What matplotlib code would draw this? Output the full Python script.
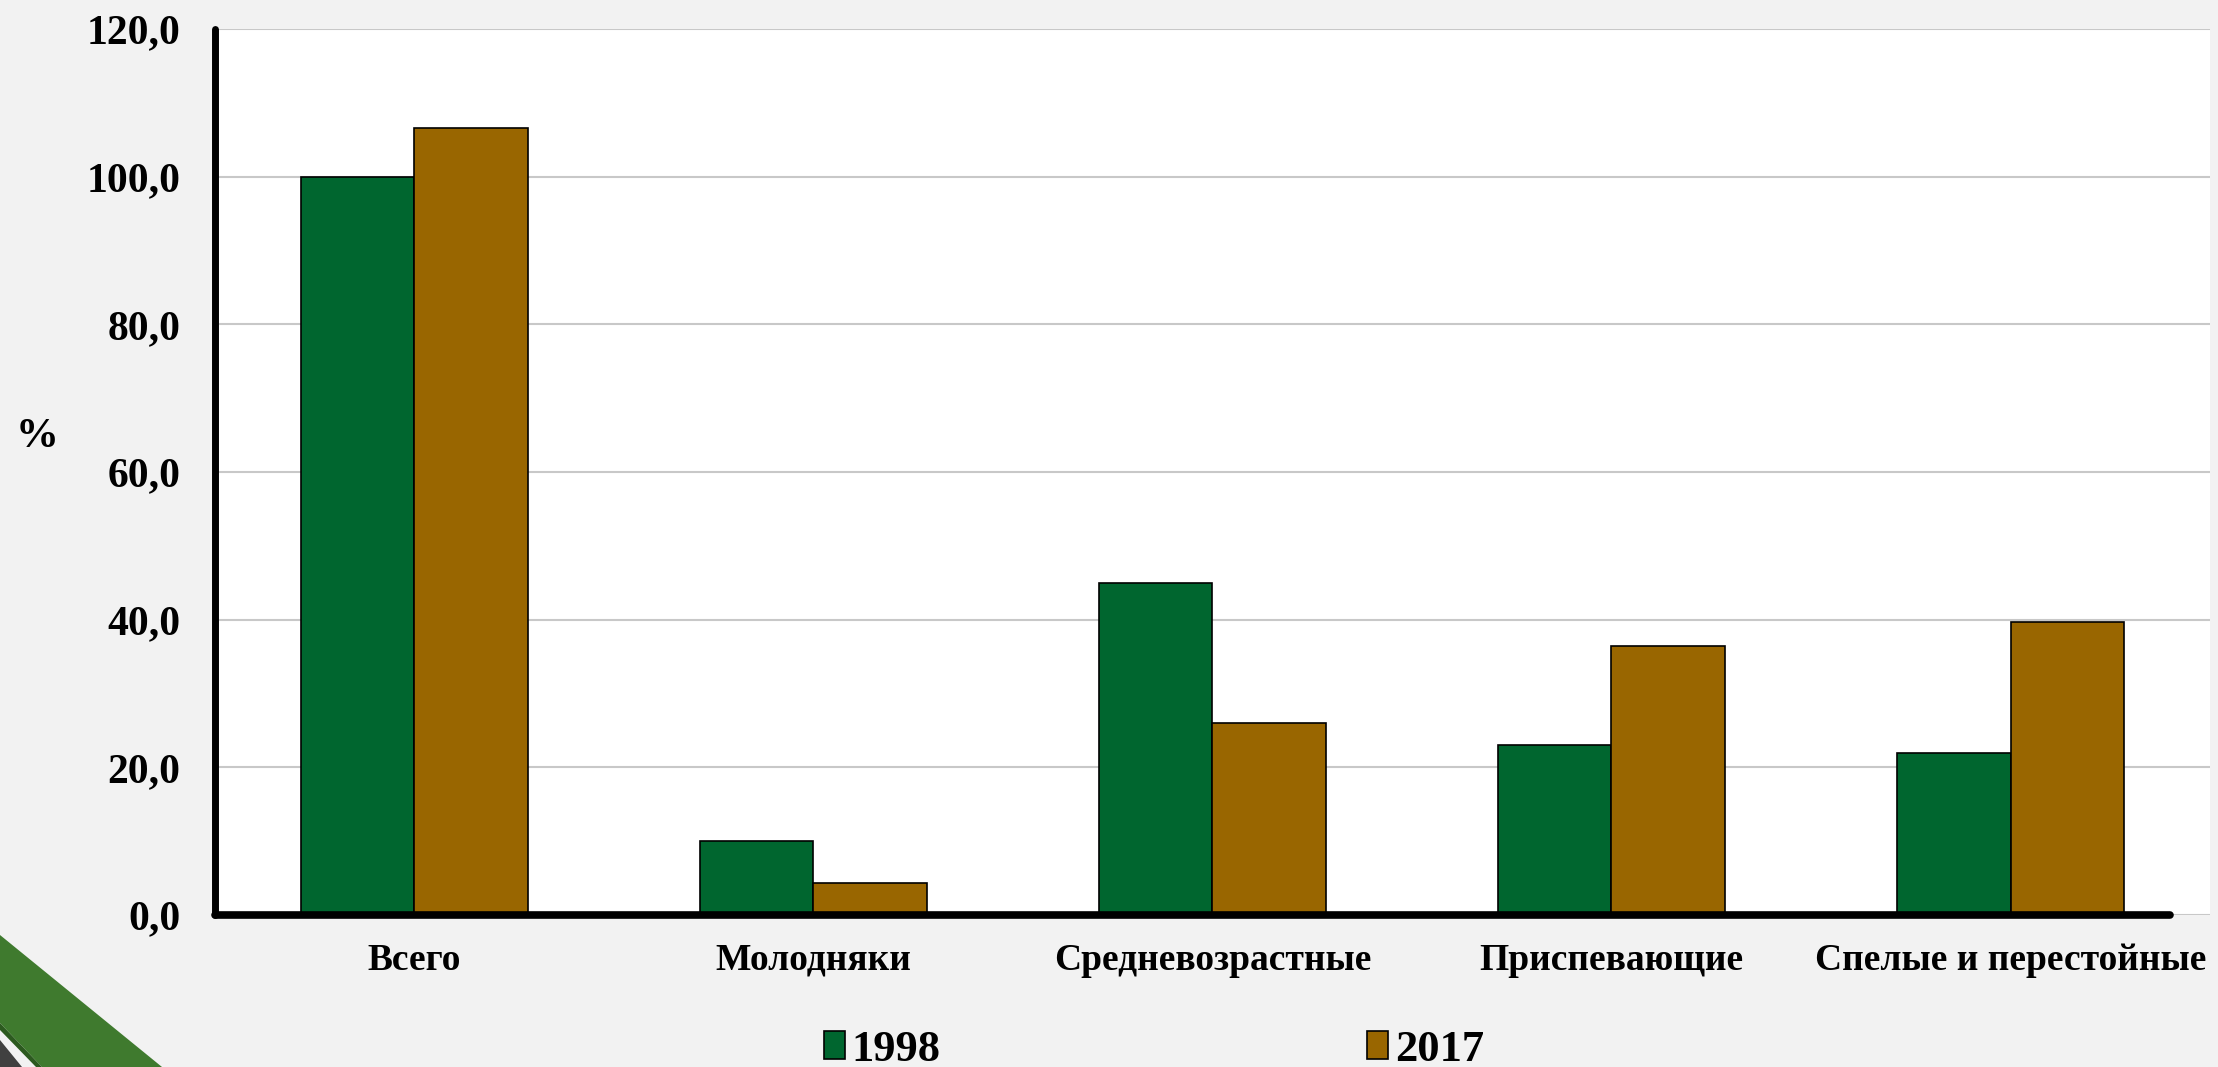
import numpy as np
import matplotlib
matplotlib.use("Agg")
import matplotlib.pyplot as plt
from matplotlib.patches import Polygon
from matplotlib.ticker import FuncFormatter

# Data
categories = ["Всего", "Молодняки", "Средневозрастные", "Приспевающие", "Спелые и перестойные"]
values_1998 = [100.0, 10.0, 45.0, 23.0, 22.0]
values_2017 = [106.6, 4.4, 26.0, 36.5, 39.7]
series_names = ["1998", "2017"]
y_ticks = [0, 20, 40, 60, 80, 100, 120]

GREEN = "#00662f"
BROWN = "#996600"
BG = "#f2f2f2"

plt.rcParams['font.family'] = ['Liberation Serif', 'DejaVu Serif']
plt.rcParams['font.weight'] = 'bold'

fig = plt.figure(figsize=(22.18, 10.67), dpi=100, facecolor=BG)
ax = fig.add_axes([0.0969, 0.1424, 0.8995, 0.8304])
ax.set_facecolor("white")

x = np.arange(len(categories))
w = 0.285
b1 = ax.bar(x - w / 2, values_1998, w, color=GREEN, edgecolor="black", linewidth=1.2,
            label=series_names[0], zorder=3)
b2 = ax.bar(x + w / 2, values_2017, w, color=BROWN, edgecolor="black", linewidth=1.2,
            label=series_names[1], zorder=3)

ax.set_xlim(-0.5, len(categories) - 0.5)
ax.set_ylim(0, 120)
ax.set_yticks(y_ticks)
ax.yaxis.set_major_formatter(FuncFormatter(lambda v, p: f"{v:.1f}".replace(".", ",")))
ax.yaxis.grid(True, color="#c8c8c8", linewidth=1.5, zorder=0)
ax.set_axisbelow(True)

ax.set_xticks(x)
ax.set_xticklabels(categories, fontsize=27, fontweight="bold")
ax.tick_params(axis="x", length=0, pad=20)
ax.tick_params(axis="y", length=0, pad=25, labelsize=30)
for lab in ax.get_yticklabels():
    lab.set_fontweight("bold")

for side in ["top", "right"]:
    ax.spines[side].set_visible(False)
ax.spines["left"].set_linewidth(5)
ax.spines["left"].set_capstyle("round")
ax.spines["bottom"].set_linewidth(5.5)
ax.spines["bottom"].set_capstyle("round")
ax.spines["bottom"].set_bounds(-0.5, 4.4)
ax.spines["left"].set_zorder(5)
ax.spines["bottom"].set_zorder(5)

fig.text(37 / 2218, 1 - 437 / 1067, "%", fontsize=31, fontweight="bold",
         ha="center", va="center")

leg = fig.legend(handles=[b1, b2], labels=series_names, loc="center",
                 bbox_to_anchor=(1154 / 2218, 1 - 1050 / 1067), ncol=2,
                 frameon=False, prop={"weight": "bold", "size": 32},
                 handlelength=0.47, handleheight=0.6, handletextpad=0.15,
                 columnspacing=9.6)

# decorative corner in the bottom left
H = 1067.0
W = 2218.0
fig.patches.append(Polygon([(0, 1 - 935 / H), (162 / W, 0), (42 / W, 0), (0, 1 - 1023 / H)],
                           closed=True, transform=fig.transFigure, facecolor="#3f7a2e",
                           edgecolor="none", zorder=0))
fig.patches.append(Polygon([(0, 1 - 1023 / H), (42 / W, 0), (36 / W, 0), (0, 1 - 1030 / H)],
                           closed=True, transform=fig.transFigure, facecolor="#2c5a1f",
                           edgecolor="none", zorder=0))
fig.patches.append(Polygon([(0, 1 - 1040 / H), (22 / W, 0), (0, 0)],
                           closed=True, transform=fig.transFigure, facecolor="#404040",
                           edgecolor="none", zorder=0))

fig.savefig("out.png", dpi=100, facecolor=BG)
